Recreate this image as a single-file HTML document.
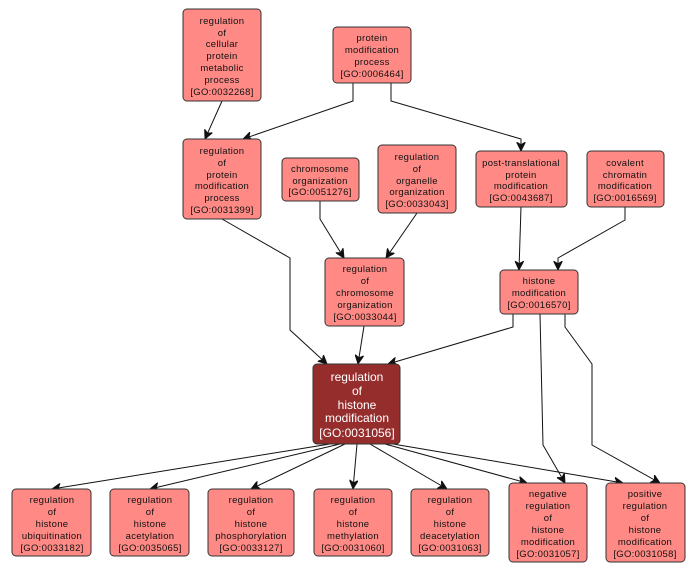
<!DOCTYPE html>
<html><head><meta charset="utf-8"><style>
html,body{margin:0;padding:0;background:#fff;}
svg{display:block;}
text{font-family:"Liberation Sans",sans-serif;font-size:9.5px;fill:#111;text-anchor:middle;letter-spacing:0.3px;}
.w{fill:#fff;font-size:12px;letter-spacing:0;}
.b{fill:#ff8a85;stroke:#333;stroke-width:1;}
.m{fill:#962d2d;stroke:#333;stroke-width:1;}
path{fill:none;stroke:#111;stroke-width:1;}
</style></head><body>
<svg width="696" height="573" viewBox="0 0 696 573" xmlns="http://www.w3.org/2000/svg">
<defs><marker id="a" viewBox="0 0 10 10" refX="10" refY="5" markerWidth="9" markerHeight="9" orient="auto" markerUnits="userSpaceOnUse"><path d="M0,0 L10,5 L0,10 L3,5 Z" style="fill:#111;stroke:#111"/></marker></defs>
<g marker-end="url(#a)">
<path d="M222,101 L205,139"/>
<path d="M353,83 L353,101 L243,139"/>
<path d="M391,83 L391,101 L521,139 L521,151"/>
<path d="M222,219 L290,258 L290,330 L327,364"/>
<path d="M320,201 L320,219 L344,258"/>
<path d="M417,213 L386,258"/>
<path d="M364,326 L358,364"/>
<path d="M513,314 L513,327 L388,364"/>
<path d="M521,207 L519,270"/>
<path d="M625,207 L625,220 L558,258 L558,270"/>
<path d="M540,314 L543,445 L565,483"/>
<path d="M565,314 L565,327 L592,364 L592,445 L660,483"/>
<path d="M330,444 L52,489"/>
<path d="M340,444 L150,489"/>
<path d="M345,444 L251,489"/>
<path d="M357,444 L353,489"/>
<path d="M370,444 L447,489"/>
<path d="M385,444 L527,483"/>
<path d="M393,444 L623,483"/>
</g>
<rect class="b" x="183" y="9" width="78" height="92" rx="4"/>
<text x="222" y="24">regulation</text><text x="222" y="36">of</text><text x="222" y="47">cellular</text><text x="222" y="59">protein</text><text x="222" y="71">metabolic</text><text x="222" y="83">process</text><text x="222" y="95">[GO:0032268]</text>
<rect class="b" x="333" y="27" width="78" height="56" rx="4"/>
<text x="372" y="41">protein</text><text x="372" y="53">modification</text><text x="372" y="65">process</text><text x="372" y="77">[GO:0006464]</text>
<rect class="b" x="183" y="139" width="78" height="80" rx="4"/>
<text x="222" y="154">regulation</text><text x="222" y="166">of</text><text x="222" y="178">protein</text><text x="222" y="189">modification</text><text x="222" y="201">process</text><text x="222" y="213">[GO:0031399]</text>
<rect class="b" x="282" y="158" width="77" height="43" rx="4"/>
<text x="320" y="172">chromosome</text><text x="320" y="184">organization</text><text x="320" y="195">[GO:0051276]</text>
<rect class="b" x="378" y="145" width="78" height="68" rx="4"/>
<text x="417" y="160">regulation</text><text x="417" y="172">of</text><text x="417" y="184">organelle</text><text x="417" y="195">organization</text><text x="417" y="207">[GO:0033043]</text>
<rect class="b" x="476" y="151" width="91" height="56" rx="4"/>
<text x="521" y="166">post-translational</text><text x="521" y="178">protein</text><text x="521" y="189">modification</text><text x="521" y="201">[GO:0043687]</text>
<rect class="b" x="587" y="151" width="77" height="56" rx="4"/>
<text x="625" y="166">covalent</text><text x="625" y="178">chromatin</text><text x="625" y="189">modification</text><text x="625" y="201">[GO:0016569]</text>
<rect class="b" x="325" y="258" width="79" height="68" rx="4"/>
<text x="365" y="272">regulation</text><text x="365" y="284">of</text><text x="365" y="296">chromosome</text><text x="365" y="308">organization</text><text x="365" y="320">[GO:0033044]</text>
<rect class="b" x="500" y="270" width="78" height="44" rx="4"/>
<text x="539" y="284">histone</text><text x="539" y="296">modification</text><text x="539" y="308">[GO:0016570]</text>
<rect class="m" x="313" y="364" width="87" height="80" rx="4"/>
<text class="w" x="357" y="381">regulation</text><text class="w" x="357" y="395">of</text><text class="w" x="357" y="409">histone</text><text class="w" x="357" y="422">modification</text><text class="w" x="357" y="437">[GO:0031056]</text>
<rect class="b" x="12" y="489" width="79" height="67" rx="4"/>
<text x="52" y="503">regulation</text><text x="52" y="515">of</text><text x="52" y="527">histone</text><text x="52" y="539">ubiquitination</text><text x="52" y="551">[GO:0033182]</text>
<rect class="b" x="110" y="489" width="79" height="67" rx="4"/>
<text x="150" y="503">regulation</text><text x="150" y="515">of</text><text x="150" y="527">histone</text><text x="150" y="539">acetylation</text><text x="150" y="551">[GO:0035065]</text>
<rect class="b" x="208" y="489" width="86" height="67" rx="4"/>
<text x="251" y="503">regulation</text><text x="251" y="515">of</text><text x="251" y="527">histone</text><text x="251" y="539">phosphorylation</text><text x="251" y="551">[GO:0033127]</text>
<rect class="b" x="314" y="489" width="78" height="67" rx="4"/>
<text x="353" y="503">regulation</text><text x="353" y="515">of</text><text x="353" y="527">histone</text><text x="353" y="539">methylation</text><text x="353" y="551">[GO:0031060]</text>
<rect class="b" x="411" y="489" width="78" height="67" rx="4"/>
<text x="450" y="503">regulation</text><text x="450" y="515">of</text><text x="450" y="527">histone</text><text x="450" y="539">deacetylation</text><text x="450" y="551">[GO:0031063]</text>
<rect class="b" x="509" y="483" width="78" height="79" rx="4"/>
<text x="548" y="497">negative</text><text x="548" y="509">regulation</text><text x="548" y="521">of</text><text x="548" y="533">histone</text><text x="548" y="545">modification</text><text x="548" y="557">[GO:0031057]</text>
<rect class="b" x="606" y="483" width="79" height="79" rx="4"/>
<text x="645" y="497">positive</text><text x="645" y="509">regulation</text><text x="645" y="521">of</text><text x="645" y="533">histone</text><text x="645" y="545">modification</text><text x="645" y="557">[GO:0031058]</text>
</svg>
</body></html>
